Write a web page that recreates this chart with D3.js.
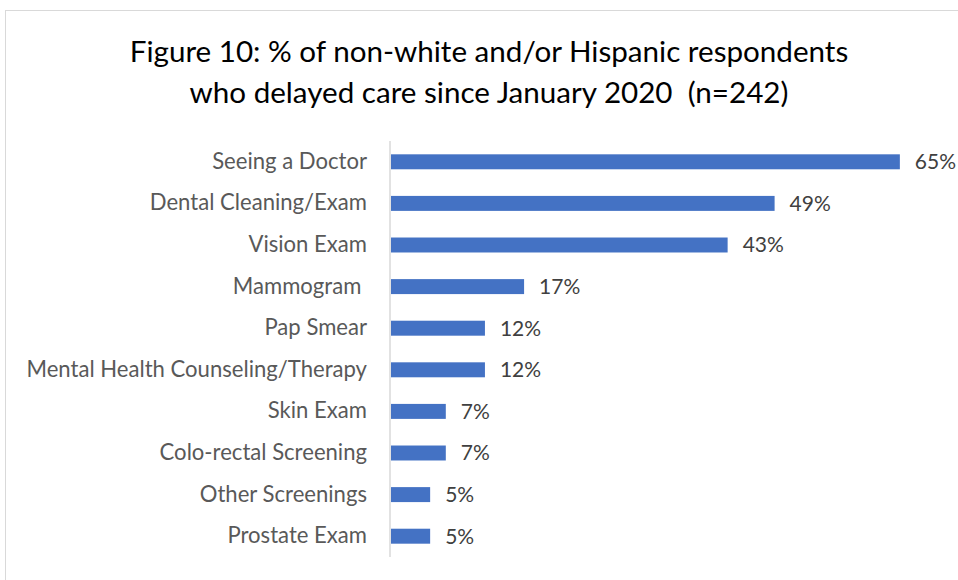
<!DOCTYPE html>
<html>
<head>
<meta charset="utf-8">
<script src="https://cdn.jsdelivr.net/npm/d3@7"></script>
<style>
  html, body { margin: 0; padding: 0; background: #fff; }
  svg { display: block; }
</style>
</head>
<body>
<svg id="chart" width="958" height="580"></svg>
<script>
// Care types, top to bottom
const categories = [
  "Seeing a Doctor",
  "Dental Cleaning/Exam",
  "Vision Exam",
  "Mammogram ",
  "Pap Smear",
  "Mental Health Counseling/Therapy",
  "Skin Exam",
  "Colo-rectal Screening",
  "Other Screenings",
  "Prostate Exam"
];
// Percent of respondents who delayed each type of care
const values = [65, 49, 43, 17, 12, 12, 7, 7, 5, 5];
const titleLines = [
  "Figure 10: % of non-white and/or Hispanic respondents",
  "who delayed care since January 2020  (n=242)"
];

const data = categories.map((c, i) => ({ category: c, value: values[i] }));
const svg = d3.select("#chart");
const font = "Lato, 'Open Sans', sans-serif";

// Outer frame
svg.append("rect")
  .attr("x", 5.5).attr("y", 10.5)
  .attr("width", 970).attr("height", 600)
  .attr("fill", "none").attr("stroke", "#d9d9d9").attr("stroke-width", 1);

// Title
svg.append("g").selectAll("text").data(titleLines).join("text")
  .attr("x", 489).attr("y", (d, i) => 62 + i * 41)
  .attr("text-anchor", "middle")
  .attr("font-family", font).attr("font-size", 29.6)
  .attr("fill", "#000")
  .style("white-space", "pre")
  .text(d => d);

const x = d3.scaleLinear().domain([0, 70]).range([391, 939]);
const y = d3.scaleBand().domain(categories).range([141, 557])
  .paddingInner(0.64).paddingOuter(0.32);

// Bars
svg.append("g").selectAll("rect").data(data).join("rect")
  .attr("x", x(0))
  .attr("y", d => y(d.category))
  .attr("width", d => x(d.value) - x(0))
  .attr("height", y.bandwidth())
  .attr("fill", "#4472c4");

// Category axis
const yAxis = svg.append("g")
  .attr("transform", `translate(${x(0) - 1},0)`)
  .call(d3.axisLeft(y).tickSize(0).tickPadding(23));
yAxis.select(".domain").attr("stroke", "#d9d9d9").attr("stroke-width", 1.5)
  .attr("d", `M0,141V557`);
yAxis.selectAll("text")
  .attr("font-family", font).attr("font-size", 22.1)
  .attr("fill", "#595959")
  .style("white-space", "pre");

// Value labels
svg.append("g").selectAll("text").data(data).join("text")
  .attr("x", d => x(d.value) + 15)
  .attr("y", d => y(d.category) + y.bandwidth() / 2)
  .attr("dy", "0.35em")
  .attr("font-family", font).attr("font-size", 21)
  .attr("fill", "#404040")
  .text(d => d.value + "%");
</script>
</body>
</html>
